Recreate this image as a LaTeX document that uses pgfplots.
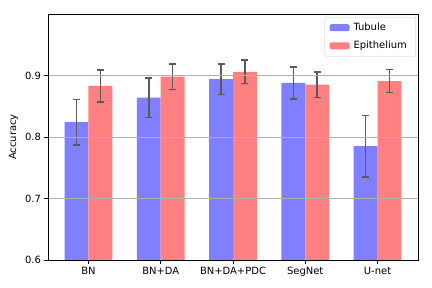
\documentclass[border=0pt]{standalone}
\usepackage{pgfplots}
\pgfplotsset{compat=1.18}
\usepackage{pgfplotstable}
\usepackage{fontspec}
\setmainfont{DejaVu Sans}
\definecolor{tubc}{HTML}{8080FF}
\definecolor{epic}{HTML}{FF8080}
\definecolor{errc}{HTML}{5A5A5A}
\definecolor{gridc}{HTML}{B0B0B0}
\pgfplotstableread{
xt xe t te e ee
-0.165 0.165 0.824 0.037 0.883 0.026
0.835 1.165 0.864 0.032 0.898 0.021
1.835 2.165 0.894 0.025 0.906 0.019
2.835 3.165 0.888 0.026 0.885 0.021
3.835 4.165 0.785 0.050 0.891 0.019
}\datatable
\begin{document}
\begin{tikzpicture}
\fontsize{10}{12}\selectfont
\path[use as bounding box] (-48bp,-28bp) rectangle (384bp,260bp);
\begin{axis}[
  at={(0,0)}, anchor=south west,
  scale only axis, width=370bp, height=246bp,
  xmin=-0.56, xmax=4.56, ymin=0.6, ymax=1.0,
  xtick={0,1,2,3,4},
  xticklabels={BN, BN+DA, BN+DA+PDC, SegNet, U-net},
  ytick={0.6,0.7,0.8,0.9},
  yticklabel style={/pgf/number format/.cd, fixed, precision=1, fixed zerofill},
  /pgf/number format/assume math mode=true,
  tick label style={font=\fontsize{10}{12}\selectfont},
  ylabel={Accuracy},
  ylabel style={font=\fontsize{10}{12}\selectfont},
  xtick pos=left, ytick pos=left,
  tick align=outside, major tick length=3.5bp,
  tick style={black, line width=0.8bp},
  axis line style={black, line width=0.8bp},
  ymajorgrids, grid style={gridc, line width=0.8bp},
  axis on top,
  legend style={at={(rel axis cs:1,1)}, anchor=north east, xshift=-2bp, yshift=-3bp,
    draw=black!20, rounded corners=2bp, font=\fontsize{10}{12}\selectfont,
    row sep=5bp, inner xsep=5bp, inner ysep=4bp,
    nodes={inner xsep=4bp}},
  legend cell align=left,
  legend image code/.code={\fill[#1] (0bp,-3.5bp) rectangle (20bp,3.5bp);},
  error bars/error bar style={errc, line width=1.5bp},
  error bars/error mark options={errc, line width=1.5bp, mark size=3.5bp, rotate=90},
]
\addplot[ybar, bar width=0.33, bar shift=0, fill=tubc, draw=none,
  error bars/.cd, y dir=both, y explicit]
  table[x=xt, y=t, y error=te]{\datatable};
\addlegendentry{Tubule}
\addplot[ybar, bar width=0.33, bar shift=0, fill=epic, draw=none,
  error bars/.cd, y dir=both, y explicit]
  table[x=xe, y=e, y error=ee]{\datatable};
\addlegendentry{Epithelium}
\end{axis}
\end{tikzpicture}
\end{document}
